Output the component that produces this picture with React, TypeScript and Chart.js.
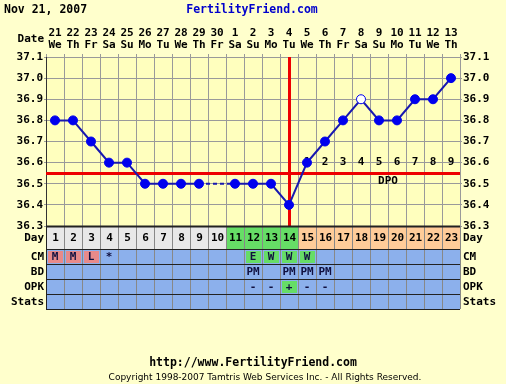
import React, { useEffect, useRef } from 'react';
import { Chart, registerables } from 'chart.js';

Chart.register(...registerables);

// ---- data ----
const headerDate = 'Nov 21, 2007';
const siteTitle = 'FertilityFriend.com';
const footerUrl = 'http://www.FertilityFriend.com';
const footerCopy = 'Copyright 1998-2007 Tamtris Web Services Inc. - All Rights Reserved.';

const dates = ['21', '22', '23', '24', '25', '26', '27', '28', '29', '30', '1', '2', '3', '4', '5', '6', '7', '8', '9', '10', '11', '12', '13'];
const weekdays = ['We', 'Th', 'Fr', 'Sa', 'Su', 'Mo', 'Tu', 'We', 'Th', 'Fr', 'Sa', 'Su', 'Mo', 'Tu', 'We', 'Th', 'Fr', 'Sa', 'Su', 'Mo', 'Tu', 'We', 'Th'];
const cycleDays = ['1', '2', '3', '4', '5', '6', '7', '8', '9', '10', '11', '12', '13', '14', '15', '16', '17', '18', '19', '20', '21', '22', '23'];
const temps: (number | null)[] = [36.8, 36.8, 36.7, 36.6, 36.6, 36.5, 36.5, 36.5, 36.5, null, 36.5, 36.5, 36.5, 36.4, 36.6, 36.7, 36.8, 36.9, 36.8, 36.8, 36.9, 36.9, 37.0];
const openPointDays = ['18'];
const phases = ['pre', 'pre', 'pre', 'pre', 'pre', 'pre', 'pre', 'pre', 'pre', 'pre', 'fertile', 'fertile', 'fertile', 'fertile', 'post', 'post', 'post', 'post', 'post', 'post', 'post', 'post', 'post'];
const coverline = 36.55;
const ovulationIndex = 13;
const dpoLabels = ['1', '2', '3', '4', '5', '6', '7', '8', '9'];
const dpoStartIndex = 14;
const dpoLevel = 36.6;
const yMin = 36.3;
const yMax = 37.1;
const yStep = 0.1;
const cmValues = ['M', 'M', 'L', '*', '', '', '', '', '', '', '', 'E', 'W', 'W', 'W', '', '', '', '', '', '', '', ''];
const bdValues = ['', '', '', '', '', '', '', '', '', '', '', 'PM', '', 'PM', 'PM', 'PM', '', '', '', '', '', '', ''];
const opkValues = ['', '', '', '', '', '', '', '', '', '', '', '-', '-', '+', '-', '-', '', '', '', '', '', '', ''];
const statsValues = ['', '', '', '', '', '', '', '', '', '', '', '', '', '', '', '', '', '', '', '', '', '', ''];
const rowLabels = ['Day', 'CM', 'BD', 'OPK', 'Stats'];

// ---- styles ----
const FONT = '"DejaVu Sans Mono", monospace';
const PAGE_BG = '#FFFFCC';
const PLOT_BG = '#FFFFBE';
const GRID = '#9a9a9a';
const BLUE_ROW = '#8CB0EC';
const PHASE_COLORS: Record<string, string> = { pre: '#E8E8E8', fertile: '#66DD66', post: '#FFCC99' };
const SALMON = '#E88A8A';
const GREEN = '#66DD66';

const tablePlugin = {
  id: 'ffTable',
  beforeDraw(chart: any) {
    const { ctx, chartArea: a } = chart;
    ctx.save();
    ctx.fillStyle = PAGE_BG;
    ctx.fillRect(0, 0, chart.width, chart.height);
    ctx.fillStyle = PLOT_BG;
    ctx.fillRect(a.left, a.top, a.right - a.left, a.bottom - a.top);
    ctx.restore();
  },
  beforeDatasetsDraw(chart: any) {
    const { ctx, chartArea: a, scales } = chart;
    const x = scales.x, y = scales.y;
    ctx.save();
    ctx.font = `bold 11px ${FONT}`;
    ctx.fillStyle = '#000';
    ctx.textAlign = 'center';
    ctx.textBaseline = 'middle';
    dpoLabels.forEach((t, k) => {
      ctx.fillText(t, x.getPixelForValue(dpoStartIndex + k), y.getPixelForValue(dpoLevel));
    });
    ctx.fillText('DPO', (x.getPixelForValue(18) + x.getPixelForValue(19)) / 2, y.getPixelForValue(36.5) - 3);
    ctx.strokeStyle = '#EE0000';
    ctx.lineWidth = 3;
    ctx.beginPath();
    const cy = Math.round(y.getPixelForValue(coverline)) + 0.5;
    ctx.moveTo(a.left, cy);
    ctx.lineTo(a.right, cy);
    ctx.stroke();
    const ox = Math.round(x.getPixelForValue(ovulationIndex)) + 0.5;
    ctx.beginPath();
    ctx.moveTo(ox, a.top);
    ctx.lineTo(ox, a.bottom);
    ctx.stroke();
    ctx.restore();
  },
  afterDraw(chart: any) {
    const { ctx, chartArea: a, scales } = chart;
    const x = scales.x;
    const half = (x.getPixelForValue(1) - x.getPixelForValue(0)) / 2;
    ctx.save();
    ctx.font = `bold 11.5px ${FONT}`;
    ctx.textBaseline = 'middle';
    ctx.textAlign = 'left';
    ctx.fillStyle = '#000';
    ctx.fillText(headerDate, 4, 10);
    ctx.fillStyle = '#0000CC';
    ctx.textAlign = 'center';
    ctx.fillText(siteTitle, 252, 10);
    ctx.fillStyle = '#000';
    ctx.textAlign = 'right';
    ctx.font = `bold 11px ${FONT}`;
    ctx.fillText('Date', a.left - 2, 39);

    const heights = [23, 15, 15, 15, 15];
    const tops: number[] = [];
    let t = a.bottom;
    heights.forEach((h) => { tops.push(t); t += h; });
    const bottom = t;
    const rows = [cycleDays, cmValues, bdValues, opkValues, statsValues];
    for (let i = 0; i < cycleDays.length; i++) {
      const l = x.getPixelForValue(i) - half;
      const w = half * 2;
      ctx.fillStyle = PHASE_COLORS[phases[i]];
      ctx.fillRect(l, tops[0], w, heights[0]);
      for (let r = 1; r < 5; r++) {
        ctx.fillStyle = BLUE_ROW;
        ctx.fillRect(l, tops[r], w, heights[r]);
        const v = rows[r][i];
        let hl: string | null = null;
        if (r === 1 && (v === 'M' || v === 'L')) hl = SALMON;
        if (r === 1 && (v === 'E' || v === 'W')) hl = GREEN;
        if (r === 3 && v === '+') hl = GREEN;
        if (hl) {
          ctx.fillStyle = hl;
          ctx.fillRect(l + 2, tops[r] + 2, w - 3, heights[r] - 3);
        }
      }
    }
    ctx.strokeStyle = '#888888';
    ctx.lineWidth = 1;
    for (let i = 0; i <= cycleDays.length; i++) {
      const gx = Math.round(x.getPixelForValue(0) - half + i * half * 2) + 0.5;
      ctx.beginPath();
      ctx.moveTo(gx, a.bottom);
      ctx.lineTo(gx, bottom);
      ctx.stroke();
    }
    ctx.strokeStyle = '#222';
    for (let r = 0; r <= 5; r++) {
      const gy = Math.round(r < 5 ? tops[r] : bottom) + 0.5;
      ctx.lineWidth = r === 0 ? 2 : 1;
      ctx.beginPath();
      ctx.moveTo(a.left, gy);
      ctx.lineTo(a.right, gy);
      ctx.stroke();
    }
    ctx.lineWidth = 1;
    ctx.beginPath();
    ctx.moveTo(a.left + 0.5, a.bottom);
    ctx.lineTo(a.left + 0.5, bottom);
    ctx.stroke();
    ctx.font = `bold 11px ${FONT}`;
    ctx.textAlign = 'center';
    ctx.textBaseline = 'middle';
    for (let r = 0; r < 5; r++) {
      ctx.fillStyle = r === 0 ? '#000' : '#101040';
      const cy = tops[r] + heights[r] / 2 + (r === 0 ? 1 : 0.5);
      rows[r].forEach((v, i) => {
        if (v) ctx.fillText(v, x.getPixelForValue(i) + (r === 0 ? 0.5 : 0), cy);
      });
    }
    ctx.fillStyle = '#000';
    rowLabels.forEach((lab, r) => {
      const cy = tops[r] + heights[r] / 2 + (r === 0 ? 1 : 0.5);
      ctx.textAlign = 'right';
      ctx.fillText(lab, a.left - 2, cy);
      ctx.textAlign = 'left';
      ctx.fillText(lab, a.right + 3, cy);
    });
    ctx.textAlign = 'center';
    ctx.font = `bold 11.5px ${FONT}`;
    ctx.fillText(footerUrl, 253, 363);
    ctx.font = `9px "DejaVu Sans", sans-serif`;
    ctx.fillText(footerCopy, 265, 378);
    ctx.restore();
  },
};

export default function App() {
  const ref = useRef<HTMLCanvasElement | null>(null);
  useEffect(() => {
    if (!ref.current) return;
    const font = { family: FONT, size: 11, weight: 'bold' as const, lineHeight: 12 / 11 };
    const yTickCb = (v: any) => Number(v).toFixed(1);
    const chart = new Chart(ref.current, {
      type: 'line',
      data: {
        labels: cycleDays,
        datasets: [
          {
            data: temps.map((v) => (v === null ? NaN : v)),
            borderColor: '#1818B0',
            borderWidth: 2,
            pointRadius: 4.5,
            pointBorderWidth: 1,
            pointBackgroundColor: cycleDays.map((d) => (openPointDays.includes(d) ? '#FFFFFF' : '#0000EE')),
            pointBorderColor: '#0000EE',
            spanGaps: true,
            tension: 0,
            clip: false as any,
            segment: {
              borderDash: (c: any) => (c.p0.skip || c.p1.skip ? [4, 3] : undefined),
            },
          },
        ],
      },
      options: {
        responsive: false,
        animation: false,
        devicePixelRatio: 1,
        layout: { padding: { left: 0, right: 0, top: 0, bottom: 158 } },
        plugins: { legend: { display: false }, tooltip: { enabled: false } },
        scales: {
          x: {
            type: 'category',
            position: 'top',
            offset: true,
            grid: { offset: true, color: GRID, tickLength: 3 },
            border: { color: GRID },
            ticks: {
              padding: 3,
              maxRotation: 0,
              autoSkip: false,
              color: '#000',
              font,
              callback: (_v: any, i: number) => [dates[i], weekdays[i]],
            },
            afterFit: (s: any) => { s.height = 57; },
          },
          y: {
            position: 'left',
            min: yMin,
            max: yMax,
            ticks: { stepSize: yStep, callback: yTickCb, padding: 1, color: '#000', font },
            grid: { color: GRID, tickLength: 2 },
            border: { color: '#333' },
            afterFit: (s: any) => { s.width = 46; },
          },
          y2: {
            position: 'right',
            min: yMin,
            max: yMax,
            ticks: { stepSize: yStep, callback: yTickCb, padding: 1, color: '#000', font },
            grid: { drawOnChartArea: false, color: GRID, tickLength: 2 },
            border: { color: GRID },
            afterFit: (s: any) => { s.width = 46; },
          },
        },
      } as any,
      plugins: [tablePlugin],
    });
    return () => chart.destroy();
  }, []);
  return (
    <div style={{ position: 'absolute', left: 0, top: 0, width: 506, height: 384 }}>
      <canvas ref={ref} width={506} height={384} style={{ display: 'block', width: 506, height: 384 }} />
    </div>
  );
}
